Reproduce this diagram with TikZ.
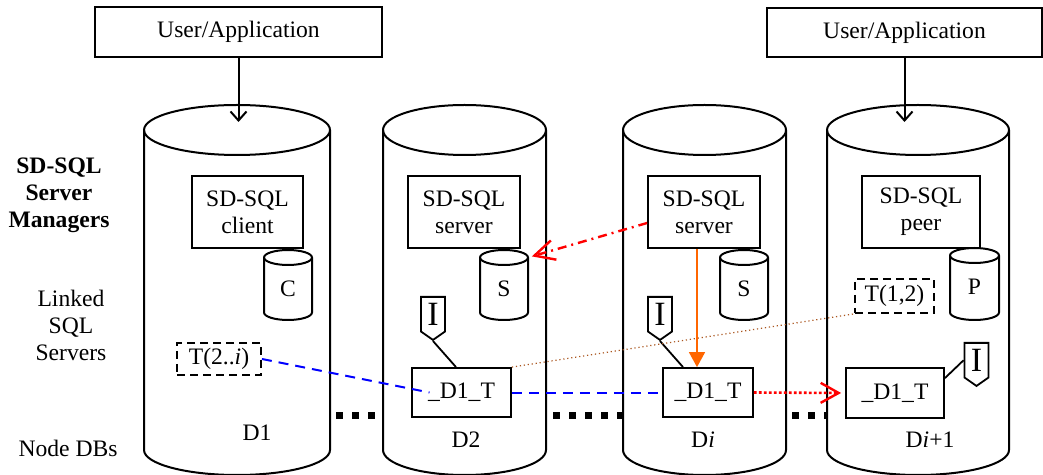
\documentclass[tikz,border=0pt]{standalone}
\usepackage{fontspec}
\setmainfont{Liberation Serif}
\usetikzlibrary{arrows.meta,shapes.symbols}
\definecolor{orng}{RGB}{255,102,0}
\definecolor{brwn}{RGB}{170,85,30}
\tikzset{
  pics/dbcyl/.style n args={3}{code={
    \draw[line width=1pt,fill=white] (-#1,0) -- (-#1,#2)
      arc[start angle=180,end angle=0,x radius=#1,y radius=#3]
      -- (#1,0) arc[start angle=0,end angle=-180,x radius=#1,y radius=#3] -- cycle;
    \draw[line width=1pt] (-#1,0) arc[start angle=180,end angle=0,x radius=#1,y radius=#3];
    \coordinate (-in) at (0,-8);
    \coordinate (-ne) at (#1,0);
    \coordinate (-w) at (-#1,285);
    \coordinate (-e) at (#1,285);
  }},
  txt/.style={font=\fontsize{11.8}{13.5}\selectfont, align=center},
  box/.style={txt, draw, line width=0.9pt, inner sep=0pt},
  tbl/.style={box, dash pattern=on 4pt off 2.5pt},
  tag/.style={draw, line width=0.9pt, signal, signal to=south, signal from=nowhere,
    signal pointer angle=110, inner sep=1pt, minimum width=12pt, minimum height=20pt,
    anchor=north, font=\fontsize{17}{18}\selectfont},
  usr/.style={-{Straight Barb[length=4.5pt,width=8pt]}, line width=1pt},
  bluedash/.style={blue, line width=1pt, dash pattern=on 5pt off 3.5pt},
  reddots/.style={red, line width=1.3pt, dash pattern=on 1.3pt off 1.2pt,
    -{Straight Barb[length=9pt,width=10pt,line width=1.2pt]}},
  reddashdot/.style={red, line width=1.2pt, dash pattern=on 4.5pt off 2.5pt on 1pt off 2.5pt,
    -{Straight Barb[length=10pt,width=10pt,line width=1.2pt]}},
  brwndots/.style={brwn, line width=0.6pt, dash pattern=on 0.6pt off 1.4pt},
  orngarr/.style={orng, line width=0.8pt, -{Triangle[length=7.5pt,width=8pt]}},
  sqdots/.style={line width=3.5pt, dash pattern=on 3.5pt off 4.5pt}
}
\begin{document}
\begin{tikzpicture}[x=0.5pt, y=-0.5pt]
\useasboundingbox (0,0) rectangle (1043,475);

\pic (d1) at (237, 130) {dbcyl={93}{320}{25}};
\pic (d2) at (464.5, 130) {dbcyl={81.5}{320}{25}};
\pic (di) at (704.5, 130) {dbcyl={81.5}{320}{25}};
\pic (dp) at (918, 130) {dbcyl={91}{320}{25}};

\pic (c1) at (288, 257.5) {dbcyl={24}{55}{7.5}};
\pic (s2) at (504, 257.5) {dbcyl={24}{55}{7.5}};
\pic (si) at (744, 257.5) {dbcyl={24}{55}{7.5}};
\pic (pp) at (974.5, 255.5) {dbcyl={24.5}{57}{7.5}};

\node[txt, font=\fontsize{11.8}{13.5}\selectfont\bfseries] (mgr) at (59, 195) {SD-SQL\\Server\\Managers};
\node[txt] (lnk) at (71, 325) {Linked\\SQL\\Servers};
\node[txt] (ndb) at (68, 448) {Node DBs};

\node[box, minimum width=143.5pt, minimum height=25pt] (user1) at (238.5, 32) {User/Application};
\node[box, minimum width=137.5pt, minimum height=24.5pt] (user2) at (904.5, 32.5) {User/Application};

\node[box, minimum width=55.5pt, minimum height=36pt] (cli) at (247.5, 212) {SD-SQL\\client};
\node[box, minimum width=56pt, minimum height=36pt] (srv2) at (464, 212) {SD-SQL\\server};
\node[box, minimum width=56pt, minimum height=36pt] (srvi) at (704, 212) {SD-SQL\\server};
\node[box, minimum width=59pt, minimum height=36pt] (peer) at (921, 212) {SD-SQL\\peer};

\node[txt] (ct) at (288, 289) {C};
\node[txt] (s2t) at (504, 289) {S};
\node[txt] (sit) at (744, 289) {S};
\node[txt] (pt) at (974.5, 287) {P};

\node[tbl, minimum width=42pt, minimum height=16pt] (t2i) at (219, 359) {T(2..\textit{i})};
\node[tbl, minimum width=39.5pt, minimum height=17pt] (t12) at (894.5, 296) {T(1,2)};

\node[box, minimum width=49.5pt, minimum height=24.5pt] (tab2) at (461.5, 392.5) {\_D1\_T};
\node[box, minimum width=45pt, minimum height=24.5pt] (tabi) at (708, 392.5) {\_D1\_T};
\node[box, minimum width=49pt, minimum height=25pt] (tabp) at (895, 393) {\_D1\_T};

\node[tag] (tag2) at (433, 296) {I};
\node[tag] (tagi) at (660, 296) {I};
\node[tag] (tagp) at (976.5, 342) {I};

\node[txt] (d1l) at (257, 433) {D1};
\node[txt] (d2l) at (466, 440) {D2};
\node[txt] (dil) at (703, 440) {D\textit{i}};
\node[txt] (dpl) at (930, 440) {D\textit{i}+1};

\draw[usr] (user1.south) -- (user1.south |- d1-in);
\draw[usr] (user2.south) -- (user2.south |- dp-in);

\draw[line width=0.9pt] (tag2.south) -- ([xshift=-2.75pt]tab2.north);
\draw[line width=0.9pt] (tagi.south) -- ([xshift=-12.5pt]tabi.north);
\draw[line width=0.9pt] (tagp.west) -- ([yshift=-5.5pt]tabp.north east);

\draw[sqdots, shorten <=3pt, shorten >=3pt] (d1-e) -- (d2-w);
\draw[sqdots, shorten <=3.5pt] (d2-e) -- (di-w);
\draw[sqdots, shorten <=3pt] (di-e) -- (dp-w);

\draw[bluedash] (t2i.east) -- ([xshift=-16pt]tab2.center);
\draw[bluedash] (tab2.east) -- (tabi.west);
\draw[brwndots] (tab2.north east) -- (t12.south west);
\draw[reddots, shorten >=2pt] (tabi.east) -- (tabp.west);
\draw[reddashdot, shorten >=2pt] ([yshift=-5.5pt]srvi.west) -- (s2-ne);
\draw[orngarr] ([xshift=-3.5pt]srvi.south) -- ([xshift=-5.5pt]tabi.north);
\end{tikzpicture}
\end{document}
